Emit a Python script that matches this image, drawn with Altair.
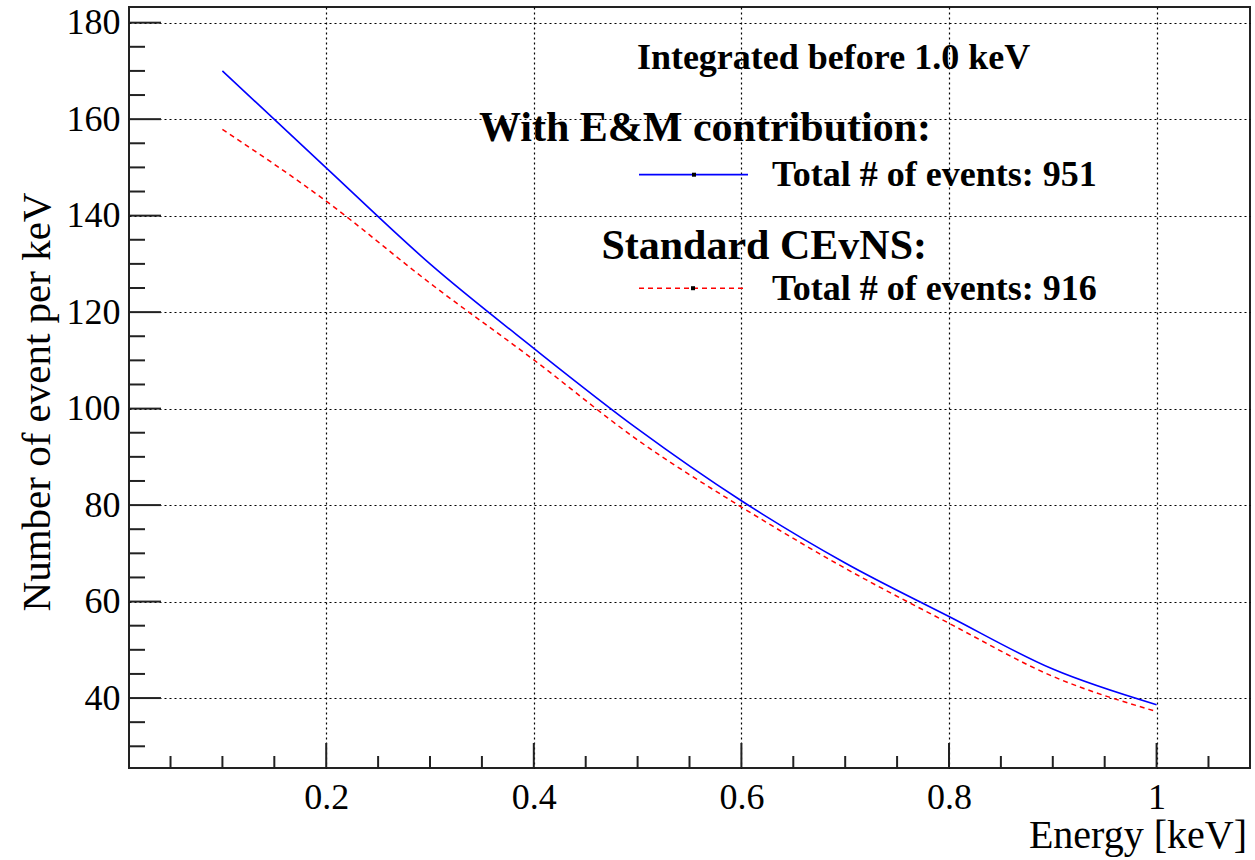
import altair as alt
import pandas as pd

# ---- data ----
energy = [0.1, 0.2, 0.3, 0.4, 0.5, 0.6, 0.7, 0.8, 0.9, 1.0]
with_em = [170.0, 149.9, 130.0, 112.5, 95.8, 80.9, 68.0, 56.9, 46.0, 38.6]
standard = [157.9, 143.0, 126.0, 110.1, 93.5, 79.6, 66.9, 55.5, 44.5, 37.2]

x_major = [0.2, 0.4, 0.6, 0.8, 1.0]
x_minor = [0.05, 0.1, 0.15, 0.25, 0.3, 0.35, 0.45, 0.5, 0.55, 0.65, 0.7, 0.75,
           0.85, 0.9, 0.95, 1.05]
y_major = [40, 60, 80, 100, 120, 140, 160, 180]
y_minor = [30, 35, 45, 50, 55, 65, 70, 75, 85, 90, 95, 105, 110, 115, 125, 130,
           135, 145, 150, 155, 165, 170, 175]

legend_header = "Integrated before 1.0 keV"
series_titles = ["With E&M contribution:", "Standard CEvNS:"]
series_totals = ["Total # of events: 951", "Total # of events: 916"]
x_title = "Energy [keV]"
y_title = "Number of event per keV"

X_DOMAIN = [0.01, 1.09]
Y_DOMAIN = [25.5, 183.25]

W, H = 1121, 761
SERIF = "Liberation Serif"
BLUE = "#0000ff"
RED = "#ff0000"

xs = alt.Scale(domain=X_DOMAIN, nice=False, zero=False)
ys = alt.Scale(domain=Y_DOMAIN, nice=False, zero=False)

x_axis = alt.Axis(values=x_major, format="~g", title=None, grid=True,
                  gridColor="black", gridDash=[2, 3], gridWidth=1.2, gridOpacity=1,
                  ticks=False, tickSize=0, domain=False, labelFont=SERIF,
                  labelFontSize=36, labelColor="black", labelPadding=40,
                  labelBaseline="alphabetic", labelFlush=False, labelOverlap=False)
y_axis = alt.Axis(values=y_major, title=None, grid=True, gridColor="black",
                  gridDash=[2, 3], gridWidth=1.2, gridOpacity=1, ticks=False,
                  tickSize=0, domain=False, labelFont=SERIF, labelFontSize=36,
                  labelColor="black", labelPadding=9, labelBaseline="middle",
                  labelAlign="right", labelFlush=False, labelOverlap=False)

df = pd.DataFrame({"energy": energy, "with_em": with_em, "standard": standard})

blue_line = alt.Chart(df).mark_line(color=BLUE, strokeWidth=1.6, interpolate="monotone").encode(
    x=alt.X("energy:Q", scale=xs, axis=x_axis),
    y=alt.Y("with_em:Q", scale=ys, axis=y_axis),
)
red_line = alt.Chart(df).mark_line(color=RED, strokeWidth=1.5, strokeDash=[5, 4],
                                   interpolate="monotone").encode(
    x=alt.X("energy:Q", scale=xs, axis=x_axis),
    y=alt.Y("standard:Q", scale=ys, axis=y_axis),
)

TICK_COLOR = "#222222"
xmaj = alt.Chart(pd.DataFrame({"v": x_major})).mark_rule(color=TICK_COLOR, strokeWidth=2).encode(
    x=alt.X("v:Q", scale=xs, axis=x_axis), y=alt.value(H), y2=alt.value(H - 25))
xmin = alt.Chart(pd.DataFrame({"v": x_minor})).mark_rule(color=TICK_COLOR, strokeWidth=2).encode(
    x=alt.X("v:Q", scale=xs, axis=x_axis), y=alt.value(H), y2=alt.value(H - 12))
ymaj = alt.Chart(pd.DataFrame({"v": y_major})).mark_rule(color=TICK_COLOR, strokeWidth=2).encode(
    y=alt.Y("v:Q", scale=ys, axis=y_axis), x=alt.value(0), x2=alt.value(32))
ymin = alt.Chart(pd.DataFrame({"v": y_minor})).mark_rule(color=TICK_COLOR, strokeWidth=2).encode(
    y=alt.Y("v:Q", scale=ys, axis=y_axis), x=alt.value(0), x2=alt.value(16))


def label(text, x, y, size, align, bold=True, angle=0, baseline="alphabetic"):
    kw = dict(font=SERIF, fontSize=size, align=align, baseline=baseline,
              fontWeight="bold" if bold else "normal", color="black")
    if angle:
        kw["angle"] = angle
    return alt.Chart(pd.DataFrame({"t": [text]})).mark_text(**kw).encode(
        text="t:N", x=alt.value(x), y=alt.value(y))


texts = [
    label(legend_header, 704.5, 62.4, 36, "center"),
    label(series_titles[0], 802, 134.2, 42, "right"),
    label(series_totals[0], 643, 178.6, 36, "left"),
    label(series_titles[1], 798, 252.1, 42, "right"),
    label(series_totals[1], 643, 293.1, 36, "left"),
    label(x_title, 1118, 841, 40, "right", bold=False),
    label(y_title, -91, 395, 41, "center", bold=False, angle=270, baseline="middle"),
]

one = pd.DataFrame({"k": [0]})
samples = [
    alt.Chart(one).mark_rule(color=BLUE, strokeWidth=1.8).encode(
        x=alt.value(510), x2=alt.value(619), y=alt.value(167.7)),
    alt.Chart(one).mark_rule(color=RED, strokeWidth=1.6, strokeDash=[5, 4]).encode(
        x=alt.value(510), x2=alt.value(616), y=alt.value(281.2)),
    alt.Chart(one).mark_square(color="black", size=16, opacity=1).encode(
        x=alt.value(565), y=alt.value(167.7)),
    alt.Chart(one).mark_square(color="black", size=16, opacity=1).encode(
        x=alt.value(564), y=alt.value(281.2)),
]

chart = alt.layer(blue_line, red_line, xmaj, xmin, ymaj, ymin, *samples, *texts).properties(
    width=W, height=H,
    autosize=alt.AutoSizeParams(type="none"),
    padding={"left": 129, "top": 7, "right": 5, "bottom": 92},
    background="white",
).configure_view(stroke=TICK_COLOR, strokeWidth=2)

chart.save("out.html", embed_options={"renderer": "svg", "actions": False})
